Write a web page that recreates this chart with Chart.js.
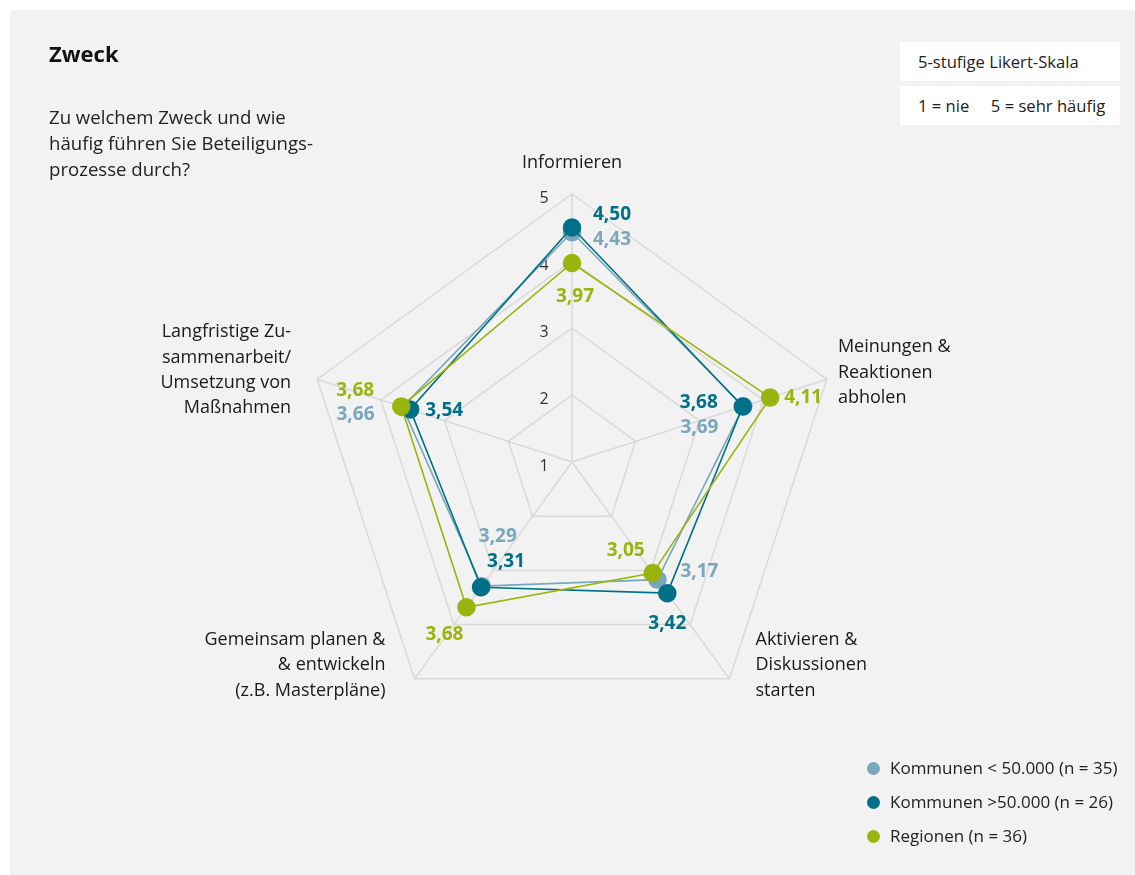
<!DOCTYPE html>
<html lang="de">
<head>
<meta charset="utf-8">
<title>Zweck</title>
<script src="https://cdn.jsdelivr.net/npm/chart.js@4.4.1/dist/chart.umd.min.js"></script>
<style>
  html, body { margin: 0; padding: 0; background: #fff; }
  body {
    width: 1135px; height: 875px; position: relative; overflow: hidden;
    font-family: "Open Sans", "Noto Sans", sans-serif; color: #1a1a1a;
  }
  #panel { position: absolute; left: 10px; top: 10px; right: 0; bottom: 0; background: #f2f2f2; }
  #chart { position: absolute; left: 0; top: 0; }
  h1 { position: absolute; left: 49px; top: 38px; margin: 0; font-size: 22px; font-weight: 700; color: #111; }
  .question { position: absolute; left: 49px; top: 104px; font-size: 18.6px; line-height: 26px; color: #222; }
  .scale-box {
    position: absolute; left: 900px; width: 220px; height: 39px; background: #fff;
    font-size: 16.6px; line-height: 39px; padding-left: 18px; box-sizing: border-box; color: #222;
  }
  .legend { position: absolute; left: 866px; top: 755px; font-size: 17px; color: #222; }
  .legend div { height: 34px; line-height: 26px; display: flex; align-items: flex-start; }
  .legend span.dot { width: 13px; height: 13px; border-radius: 50%; margin: 7px 10px 0 1px; flex: none; }
</style>
</head>
<body>
<div id="panel"></div>
<canvas id="chart" width="1135" height="875"></canvas>
<h1>Zweck</h1>
<div class="question">Zu welchem Zweck und wie<br>häufig führen Sie Beteiligungs-<br>prozesse durch?</div>
<div class="scale-box" style="top:42px">5-stufige Likert-Skala</div>
<div class="scale-box" style="top:86px">1 = nie &nbsp;&nbsp;&nbsp; 5 = sehr häufig</div>
<div class="legend" id="legend"></div>
<script>
// categories, clockwise from the top
const categories = [
  ["Informieren"],
  ["Meinungen &", "Reaktionen", "abholen"],
  ["Aktivieren &", "Diskussionen", "starten"],
  ["Gemeinsam planen &", "& entwickeln", "(z.B. Masterpläne)"],
  ["Langfristige Zu-", "sammenarbeit/", "Umsetzung von", "Maßnahmen"],
];

const seriesNames = [
  "Kommunen < 50.000 (n = 35)",
  "Kommunen >50.000 (n = 26)",
  "Regionen (n = 36)",
];
const kommunenKlein = [4.43, 3.69, 3.17, 3.29, 3.66];
const kommunenGross = [4.50, 3.68, 3.42, 3.31, 3.54];
const regionen = [3.97, 4.11, 3.05, 3.68, 3.68];
const tickValues = [1, 2, 3, 4, 5];

const colors = ["#79a7bb", "#006f88", "#9bb40d"];

// where each category label sits relative to the outer vertex
const catAnchor = [
  { dx: 0, dy: -31, align: "center" },
  { dx: 11, dy: -32, align: "left" },
  { dx: 26, dy: -39, align: "left" },
  { dx: -29, dy: -39, align: "right" },
  { dx: -26, dy: -47, align: "right" },
];

// value label offsets from each point, per series
const valueOffsets = [
  [[40, 7], [-44, 21], [42, -8], [16, -50], [-47, 8]],
  [[40, -13], [-44, -4], [0, 30], [25, -26], [34, 1]],
  [[3, 34], [33, 0], [-27, -23], [-22, 27], [-46, -16]],
];

const fmt = (v) => v.toFixed(2).replace(".", ",");

const radarText = {
  id: "radarText",
  beforeDatasetsDraw(chart) {
    const { ctx } = chart;
    const r = chart.scales.r;
    ctx.save();
    ctx.font = "16px 'Open Sans'";
    ctx.fillStyle = "#333";
    ctx.textAlign = "center";
    ctx.textBaseline = "middle";
    tickValues.forEach((v) => {
      const d = r.getDistanceFromCenterForValue(v);
      ctx.fillText(String(v), r.xCenter - 28, r.yCenter - d + 4);
    });

    ctx.font = "18px 'Open Sans'";
    ctx.fillStyle = "#1a1a1a";
    categories.forEach((lines, i) => {
      const p = r.getPointPosition(i, r.drawingArea);
      const a = catAnchor[i];
      ctx.textAlign = a.align;
      lines.forEach((t, j) => ctx.fillText(t, p.x + a.dx, p.y + a.dy + j * 25.3));
    });
    ctx.restore();
  },
  afterDraw(chart) {
    const { ctx } = chart;
    ctx.save();
    ctx.font = "bold 19px 'Open Sans'";
    ctx.textAlign = "center";
    ctx.textBaseline = "middle";
    chart.data.datasets.forEach((ds, di) => {
      const meta = chart.getDatasetMeta(di);
      ctx.fillStyle = ds.borderColor;
      meta.data.forEach((pt, i) => {
        const [dx, dy] = valueOffsets[di][i];
        ctx.fillText(fmt(ds.data[i]), pt.x + dx, pt.y + dy);
      });
    });
    ctx.restore();
  },
};

const seriesData = [kommunenKlein, kommunenGross, regionen];

new Chart(document.getElementById("chart"), {
  type: "radar",
  data: {
    labels: categories.map((l) => l.join(" ")),
    datasets: seriesData.map((data, i) => ({
      label: seriesNames[i],
      data,
      borderColor: colors[i],
      backgroundColor: colors[i],
      pointBackgroundColor: colors[i],
      fill: false,
      order: 3 - i,
    })),
  },
  options: {
    responsive: false,
    animation: false,
    layout: { padding: { left: 304, right: 295, top: 194, bottom: 145 } },
    elements: {
      line: { borderWidth: 1.6, tension: 0 },
      point: { radius: 8.5, hoverRadius: 8.5, borderWidth: 1.5, borderColor: "#fff" },
    },
    scales: {
      r: {
        min: 1,
        max: 5,
        ticks: { display: false, stepSize: 1 },
        grid: { color: "#d9d9d9", lineWidth: 1.5 },
        angleLines: { color: "#d9d9d9", lineWidth: 1.5 },
        pointLabels: { display: false },
      },
    },
    plugins: {
      legend: { display: false },
      tooltip: { enabled: false },
    },
  },
  plugins: [radarText],
});

const legend = document.getElementById("legend");
seriesNames.forEach((name, i) => {
  const row = document.createElement("div");
  row.innerHTML = `<span class="dot" style="background:${colors[i]}"></span>${name}`;
  legend.appendChild(row);
});
</script>
</body>
</html>
